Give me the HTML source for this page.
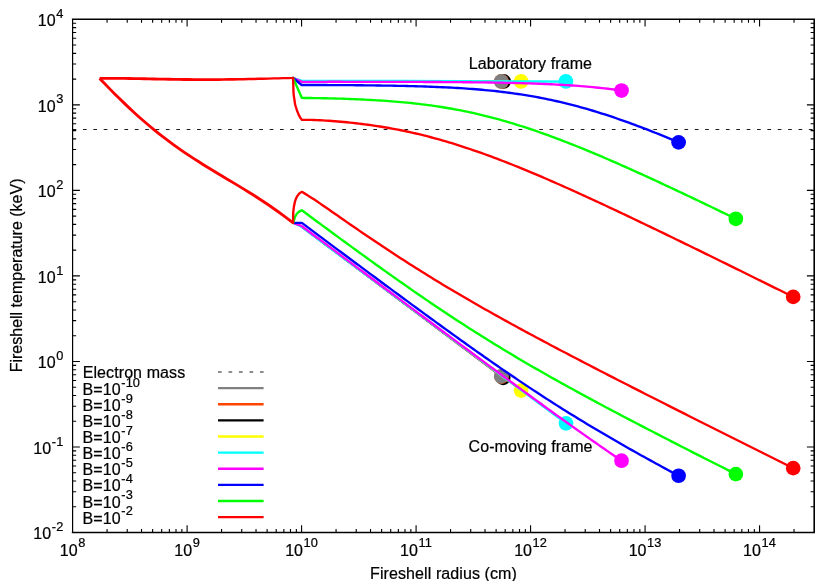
<!DOCTYPE html>
<html><head><meta charset="utf-8"><title>Fireshell temperature</title>
<style>html,body{margin:0;padding:0;background:#fff;}body{width:830px;height:581px;overflow:hidden;font-family:"Liberation Sans",sans-serif;}</style>
</head><body>
<svg width="830" height="581" viewBox="0 0 830 581" style="display:block;will-change:transform;font-family:'Liberation Sans',sans-serif">
<rect x="0" y="0" width="830" height="581" fill="#fff"/>
<path d="M107.07 532.55v-3.55M107.07 19.3v3.55M127.23 532.55v-3.55M127.23 19.3v3.55M141.53 532.55v-3.55M141.53 19.3v3.55M152.63 532.55v-3.55M152.63 19.3v3.55M161.69 532.55v-3.55M161.69 19.3v3.55M169.36 532.55v-3.55M169.36 19.3v3.55M176 532.55v-3.55M176 19.3v3.55M181.86 532.55v-3.55M181.86 19.3v3.55M187.1 532.55v-7.3M187.1 19.3v7.3M221.56 532.55v-3.55M221.56 19.3v3.55M241.72 532.55v-3.55M241.72 19.3v3.55M256.03 532.55v-3.55M256.03 19.3v3.55M267.12 532.55v-3.55M267.12 19.3v3.55M276.19 532.55v-3.55M276.19 19.3v3.55M283.86 532.55v-3.55M283.86 19.3v3.55M290.49 532.55v-3.55M290.49 19.3v3.55M296.35 532.55v-3.55M296.35 19.3v3.55M301.59 532.55v-7.3M301.59 19.3v7.3M336.06 532.55v-3.55M336.06 19.3v3.55M356.22 532.55v-3.55M356.22 19.3v3.55M370.52 532.55v-3.55M370.52 19.3v3.55M381.62 532.55v-3.55M381.62 19.3v3.55M390.69 532.55v-3.55M390.69 19.3v3.55M398.35 532.55v-3.55M398.35 19.3v3.55M404.99 532.55v-3.55M404.99 19.3v3.55M410.85 532.55v-3.55M410.85 19.3v3.55M416.09 532.55v-7.3M416.09 19.3v7.3M450.55 532.55v-3.55M450.55 19.3v3.55M470.71 532.55v-3.55M470.71 19.3v3.55M485.02 532.55v-3.55M485.02 19.3v3.55M496.11 532.55v-3.55M496.11 19.3v3.55M505.18 532.55v-3.55M505.18 19.3v3.55M512.85 532.55v-3.55M512.85 19.3v3.55M519.49 532.55v-3.55M519.49 19.3v3.55M525.34 532.55v-3.55M525.34 19.3v3.55M530.58 532.55v-7.3M530.58 19.3v7.3M565.05 532.55v-3.55M565.05 19.3v3.55M585.21 532.55v-3.55M585.21 19.3v3.55M599.51 532.55v-3.55M599.51 19.3v3.55M610.61 532.55v-3.55M610.61 19.3v3.55M619.68 532.55v-3.55M619.68 19.3v3.55M627.34 532.55v-3.55M627.34 19.3v3.55M633.98 532.55v-3.55M633.98 19.3v3.55M639.84 532.55v-3.55M639.84 19.3v3.55M645.08 532.55v-7.3M645.08 19.3v7.3M679.54 532.55v-3.55M679.54 19.3v3.55M699.7 532.55v-3.55M699.7 19.3v3.55M714.01 532.55v-3.55M714.01 19.3v3.55M725.11 532.55v-3.55M725.11 19.3v3.55M734.17 532.55v-3.55M734.17 19.3v3.55M741.84 532.55v-3.55M741.84 19.3v3.55M748.48 532.55v-3.55M748.48 19.3v3.55M754.33 532.55v-3.55M754.33 19.3v3.55M759.57 532.55v-7.3M759.57 19.3v7.3M794.04 532.55v-3.55M794.04 19.3v3.55M72.6 506.8h3.55M814.2 506.8h-3.55M72.6 491.74h3.55M814.2 491.74h-3.55M72.6 481.05h3.55M814.2 481.05h-3.55M72.6 472.76h3.55M814.2 472.76h-3.55M72.6 465.99h3.55M814.2 465.99h-3.55M72.6 460.26h3.55M814.2 460.26h-3.55M72.6 455.3h3.55M814.2 455.3h-3.55M72.6 450.92h3.55M814.2 450.92h-3.55M72.6 447.01h7.3M814.2 447.01h-7.3M72.6 421.26h3.55M814.2 421.26h-3.55M72.6 406.19h3.55M814.2 406.19h-3.55M72.6 395.51h3.55M814.2 395.51h-3.55M72.6 387.22h3.55M814.2 387.22h-3.55M72.6 380.44h3.55M814.2 380.44h-3.55M72.6 374.72h3.55M814.2 374.72h-3.55M72.6 369.76h3.55M814.2 369.76h-3.55M72.6 365.38h3.55M814.2 365.38h-3.55M72.6 361.47h7.3M814.2 361.47h-7.3M72.6 335.72h3.55M814.2 335.72h-3.55M72.6 320.65h3.55M814.2 320.65h-3.55M72.6 309.97h3.55M814.2 309.97h-3.55M72.6 301.68h3.55M814.2 301.68h-3.55M72.6 294.9h3.55M814.2 294.9h-3.55M72.6 289.18h3.55M814.2 289.18h-3.55M72.6 284.21h3.55M814.2 284.21h-3.55M72.6 279.84h3.55M814.2 279.84h-3.55M72.6 275.92h7.3M814.2 275.92h-7.3M72.6 250.17h3.55M814.2 250.17h-3.55M72.6 235.11h3.55M814.2 235.11h-3.55M72.6 224.42h3.55M814.2 224.42h-3.55M72.6 216.13h3.55M814.2 216.13h-3.55M72.6 209.36h3.55M814.2 209.36h-3.55M72.6 203.63h3.55M814.2 203.63h-3.55M72.6 198.67h3.55M814.2 198.67h-3.55M72.6 194.3h3.55M814.2 194.3h-3.55M72.6 190.38h7.3M814.2 190.38h-7.3M72.6 164.63h3.55M814.2 164.63h-3.55M72.6 149.57h3.55M814.2 149.57h-3.55M72.6 138.88h3.55M814.2 138.88h-3.55M72.6 130.59h3.55M814.2 130.59h-3.55M72.6 123.82h3.55M814.2 123.82h-3.55M72.6 118.09h3.55M814.2 118.09h-3.55M72.6 113.13h3.55M814.2 113.13h-3.55M72.6 108.76h3.55M814.2 108.76h-3.55M72.6 104.84h7.3M814.2 104.84h-7.3M72.6 79.09h3.55M814.2 79.09h-3.55M72.6 64.03h3.55M814.2 64.03h-3.55M72.6 53.34h3.55M814.2 53.34h-3.55M72.6 45.05h3.55M814.2 45.05h-3.55M72.6 38.28h3.55M814.2 38.28h-3.55M72.6 32.55h3.55M814.2 32.55h-3.55M72.6 27.59h3.55M814.2 27.59h-3.55M72.6 23.21h3.55M814.2 23.21h-3.55" stroke="#000" stroke-width="1.1" fill="none"/>
<path d="M72.6 129.5H814.2" stroke="#1a1a1a" stroke-width="1" stroke-dasharray="3.7 6.67" fill="none"/>
<g stroke="#000000" fill="none" stroke-width="1.5" stroke-linejoin="round">
<path d="M292.5 78L293.1 78L301.9 80.95L400 81L460 81.12L503.6 81.36"/>
<path d="M292.6 222.55L293.1 222.9L300.2 225.9L503.2 377.8"/>
</g>
<circle cx="503.6" cy="81.45" r="7.35" fill="#000000"/>
<circle cx="503.2" cy="377.8" r="7.35" fill="#000000"/>
<g stroke="#ff4500" fill="none" stroke-width="1.5" stroke-linejoin="round">
<path d="M292.5 78L293.1 78L301.9 80.95L400 81L460 81.12L501.5 81.36"/>
<path d="M292.6 222.55L293.1 222.9L300.2 225.9L501.5 376.55"/>
</g>
<circle cx="501.5" cy="81.45" r="7.35" fill="#ff4500"/>
<circle cx="501.5" cy="376.55" r="7.35" fill="#ff4500"/>
<g stroke="#808080" fill="none" stroke-width="1.5" stroke-linejoin="round">
<path d="M292.5 78L293.1 78L301.9 80.95L400 81L460 81.12L501.2 81.35"/>
<path d="M292.6 222.55L293.1 222.9L300.2 225.9L501.2 376.3"/>
</g>
<circle cx="501.2" cy="81.45" r="7.35" fill="#808080"/>
<circle cx="501.2" cy="376.3" r="7.35" fill="#808080"/>
<g stroke="#ffff00" fill="none" stroke-width="1.5" stroke-linejoin="round">
<path d="M292.5 78L293.1 78L301.9 80.95L400 81L460 81.12L500 81.35L521.1 81.43"/>
<path d="M292.6 222.55L293.1 222.9L300.2 225.9L521.1 390.6"/>
</g>
<circle cx="521.1" cy="81.45" r="7.35" fill="#ffff00"/>
<circle cx="521.1" cy="390.6" r="7.35" fill="#ffff00"/>
<g stroke="#00ffff" fill="none" stroke-width="2.35" stroke-linejoin="round">
<path d="M292.5 78L293.1 78L301.9 80.95L400 81L460 81.12L500 81.35L540 81.5L565.9 81.55"/>
<path d="M292.6 222.55L293.1 222.9L300.2 225.9L566 423.4"/>
</g>
<circle cx="565.9" cy="81.45" r="7.35" fill="#00ffff"/>
<circle cx="566" cy="423.4" r="7.35" fill="#00ffff"/>
<g stroke="#ff00ff" fill="none" stroke-width="2.35" stroke-linejoin="round">
<path d="M292.5 78L293.1 78L301.9 81.9L304.9 81.87L307.9 81.85L310.9 81.83L313.9 81.82L316.9 81.81L319.9 81.81L322.9 81.8L325.9 81.8L328.9 81.79L331.9 81.79L334.9 81.79L337.9 81.79L340.9 81.79L343.9 81.8L346.9 81.8L349.9 81.8L352.9 81.8L355.9 81.8L358.9 81.81L361.9 81.81L364.9 81.81L367.9 81.82L370.9 81.82L373.9 81.83L376.9 81.83L379.9 81.84L382.9 81.84L385.9 81.85L388.9 81.85L391.9 81.86L394.9 81.87L397.9 81.87L400.9 81.88L403.9 81.89L406.9 81.9L409.9 81.91L412.9 81.92L415.9 81.93L418.9 81.94L421.9 81.95L424.9 81.96L427.9 81.98L430.9 81.99L433.9 82L436.9 82.02L439.9 82.04L442.9 82.06L445.9 82.07L448.9 82.09L451.9 82.11L454.9 82.14L457.9 82.16L460.9 82.19L463.9 82.21L466.9 82.24L469.9 82.27L472.9 82.3L475.9 82.34L478.9 82.37L481.9 82.41L484.9 82.45L487.9 82.5L490.9 82.54L493.9 82.59L496.9 82.64L499.9 82.69L502.9 82.75L505.9 82.81L508.9 82.87L511.9 82.94L514.9 83.01L517.9 83.09L520.9 83.17L523.9 83.26L526.9 83.35L529.9 83.44L532.9 83.54L535.9 83.65L538.9 83.76L541.9 83.88L544.9 84L547.9 84.13L550.9 84.27L553.9 84.42L556.9 84.57L559.9 84.73L562.9 84.9L565.9 85.08L568.9 85.27L571.9 85.47L574.9 85.68L577.9 85.9L580.9 86.13L583.9 86.37L586.9 86.63L589.9 86.89L592.9 87.17L595.9 87.46L598.9 87.77L601.9 88.09L604.9 88.42L607.9 88.77L610.9 89.13L613.9 89.51L616.9 89.9L619.9 90.31L621.55 90.55"/>
<path d="M292.6 222.55L293.1 222.9L300.2 225.3L301.9 226.2L304.9 228.45L307.9 230.7L310.9 232.95L313.9 235.2L316.9 237.44L319.9 239.68L322.9 241.93L325.9 244.17L328.9 246.41L331.9 248.65L334.9 250.89L337.9 253.14L340.9 255.38L343.9 257.62L346.9 259.86L349.9 262.1L352.9 264.34L355.9 266.58L358.9 268.82L361.9 271.06L364.9 273.3L367.9 275.54L370.9 277.78L373.9 280.01L376.9 282.25L379.9 284.49L382.9 286.73L385.9 288.97L388.9 291.21L391.9 293.45L394.9 295.68L397.9 297.92L400.9 300.16L403.9 302.4L406.9 304.63L409.9 306.87L412.9 309.11L415.9 311.34L418.9 313.58L421.9 315.81L424.9 318.05L427.9 320.28L430.9 322.52L433.9 324.75L436.9 326.99L439.9 329.22L442.9 331.45L445.9 333.68L448.9 335.92L451.9 338.15L454.9 340.38L457.9 342.61L460.9 344.83L463.9 347.06L466.9 349.29L469.9 351.52L472.9 353.74L475.9 355.97L478.9 358.19L481.9 360.41L484.9 362.63L487.9 364.85L490.9 367.07L493.9 369.29L496.9 371.5L499.9 373.72L502.9 375.93L505.9 378.14L508.9 380.35L511.9 382.56L514.9 384.76L517.9 386.97L520.9 389.17L523.9 391.37L526.9 393.56L529.9 395.76L532.9 397.95L535.9 400.14L538.9 402.32L541.9 404.51L544.9 406.68L547.9 408.86L550.9 411.03L553.9 413.2L556.9 415.37L559.9 417.53L562.9 419.68L565.9 421.83L568.9 423.98L571.9 426.12L574.9 428.26L577.9 430.39L580.9 432.52L583.9 434.64L586.9 436.75L589.9 438.86L592.9 440.96L595.9 443.06L598.9 445.15L601.9 447.23L604.9 449.3L607.9 451.37L610.9 453.43L613.9 455.48L616.9 457.53L619.9 459.56L621.55 460.68"/>
</g>
<circle cx="621.55" cy="90.55" r="7.35" fill="#ff00ff"/>
<circle cx="621.55" cy="460.68" r="7.35" fill="#ff00ff"/>
<g stroke="#0000ff" fill="none" stroke-width="2.35" stroke-linejoin="round">
<path d="M292.5 78L293.1 78L301.6 85L301.9 85L304.9 84.99L307.9 84.99L310.9 84.99L313.9 85L316.9 85.01L319.9 85.01L322.9 85.02L325.9 85.04L328.9 85.05L331.9 85.06L334.9 85.08L337.9 85.1L340.9 85.12L343.9 85.14L346.9 85.16L349.9 85.18L352.9 85.2L355.9 85.23L358.9 85.26L361.9 85.29L364.9 85.32L367.9 85.35L370.9 85.38L373.9 85.42L376.9 85.46L379.9 85.5L382.9 85.55L385.9 85.59L388.9 85.64L391.9 85.69L394.9 85.75L397.9 85.81L400.9 85.87L403.9 85.94L406.9 86L409.9 86.08L412.9 86.16L415.9 86.24L418.9 86.33L421.9 86.42L424.9 86.51L427.9 86.62L430.9 86.73L433.9 86.84L436.9 86.96L439.9 87.09L442.9 87.22L445.9 87.37L448.9 87.52L451.9 87.67L454.9 87.84L457.9 88.01L460.9 88.2L463.9 88.39L466.9 88.6L469.9 88.81L472.9 89.03L475.9 89.27L478.9 89.52L481.9 89.78L484.9 90.05L487.9 90.33L490.9 90.63L493.9 90.94L496.9 91.27L499.9 91.61L502.9 91.96L505.9 92.33L508.9 92.72L511.9 93.12L514.9 93.54L517.9 93.97L520.9 94.42L523.9 94.89L526.9 95.38L529.9 95.88L532.9 96.4L535.9 96.94L538.9 97.5L541.9 98.08L544.9 98.67L547.9 99.29L550.9 99.92L553.9 100.57L556.9 101.24L559.9 101.93L562.9 102.64L565.9 103.37L568.9 104.12L571.9 104.88L574.9 105.67L577.9 106.47L580.9 107.29L583.9 108.13L586.9 108.98L589.9 109.86L592.9 110.75L595.9 111.66L598.9 112.59L601.9 113.53L604.9 114.49L607.9 115.47L610.9 116.46L613.9 117.46L616.9 118.49L619.9 119.52L622.9 120.57L625.9 121.64L628.9 122.72L631.9 123.81L634.9 124.92L637.9 126.04L640.9 127.17L643.9 128.32L646.9 129.47L649.9 130.64L652.9 131.82L655.9 133.01L658.9 134.21L661.9 135.42L664.9 136.64L667.9 137.87L670.9 139.11L673.9 140.36L676.9 141.61L678.6 142.33"/>
<path d="M292.6 222.55L293.1 222.9L301.9 222.85L304.9 225.12L307.9 227.39L310.9 229.64L313.9 231.89L316.9 234.14L319.9 236.39L322.9 238.63L325.9 240.87L328.9 243.11L331.9 245.35L334.9 247.58L337.9 249.82L340.9 252.05L343.9 254.28L346.9 256.51L349.9 258.74L352.9 260.97L355.9 263.2L358.9 265.43L361.9 267.66L364.9 269.88L367.9 272.11L370.9 274.33L373.9 276.56L376.9 278.78L379.9 281L382.9 283.22L385.9 285.44L388.9 287.65L391.9 289.87L394.9 292.08L397.9 294.29L400.9 296.5L403.9 298.71L406.9 300.92L409.9 303.12L412.9 305.33L415.9 307.53L418.9 309.72L421.9 311.92L424.9 314.11L427.9 316.3L430.9 318.49L433.9 320.67L436.9 322.85L439.9 325.03L442.9 327.21L445.9 329.38L448.9 331.54L451.9 333.7L454.9 335.86L457.9 338.02L460.9 340.17L463.9 342.31L466.9 344.45L469.9 346.59L472.9 348.71L475.9 350.84L478.9 352.96L481.9 355.07L484.9 357.17L487.9 359.27L490.9 361.36L493.9 363.45L496.9 365.53L499.9 367.6L502.9 369.66L505.9 371.72L508.9 373.77L511.9 375.81L514.9 377.84L517.9 379.87L520.9 381.88L523.9 383.89L526.9 385.89L529.9 387.88L532.9 389.86L535.9 391.83L538.9 393.79L541.9 395.74L544.9 397.69L547.9 399.62L550.9 401.55L553.9 403.46L556.9 405.37L559.9 407.26L562.9 409.15L565.9 411.03L568.9 412.9L571.9 414.76L574.9 416.6L577.9 418.45L580.9 420.28L583.9 422.1L586.9 423.91L589.9 425.71L592.9 427.51L595.9 429.3L598.9 431.07L601.9 432.84L604.9 434.61L607.9 436.36L610.9 438.11L613.9 439.84L616.9 441.57L619.9 443.3L622.9 445.01L625.9 446.72L628.9 448.42L631.9 450.12L634.9 451.8L637.9 453.49L640.9 455.16L643.9 456.83L646.9 458.49L649.9 460.15L652.9 461.8L655.9 463.45L658.9 465.09L661.9 466.73L664.9 468.36L667.9 469.99L670.9 471.61L673.9 473.22L676.9 474.84L678.6 475.75"/>
</g>
<circle cx="678.6" cy="142.33" r="7.35" fill="#0000ff"/>
<circle cx="678.6" cy="475.75" r="7.35" fill="#0000ff"/>
<g stroke="#00ff00" fill="none" stroke-width="2.35" stroke-linejoin="round">
<path d="M292.5 78L293.1 78L301.9 97.95L304.9 97.97L307.9 97.99L310.9 98.02L313.9 98.07L316.9 98.11L319.9 98.17L322.9 98.23L325.9 98.29L328.9 98.36L331.9 98.44L334.9 98.52L337.9 98.6L340.9 98.7L343.9 98.79L346.9 98.9L349.9 99L352.9 99.12L355.9 99.24L358.9 99.37L361.9 99.51L364.9 99.65L367.9 99.8L370.9 99.96L373.9 100.13L376.9 100.31L379.9 100.49L382.9 100.69L385.9 100.89L388.9 101.11L391.9 101.34L394.9 101.58L397.9 101.83L400.9 102.09L403.9 102.36L406.9 102.65L409.9 102.95L412.9 103.27L415.9 103.59L418.9 103.94L421.9 104.3L424.9 104.67L427.9 105.06L430.9 105.46L433.9 105.88L436.9 106.32L439.9 106.78L442.9 107.25L445.9 107.74L448.9 108.25L451.9 108.77L454.9 109.32L457.9 109.88L460.9 110.46L463.9 111.06L466.9 111.68L469.9 112.32L472.9 112.97L475.9 113.65L478.9 114.34L481.9 115.06L484.9 115.79L487.9 116.54L490.9 117.31L493.9 118.1L496.9 118.91L499.9 119.73L502.9 120.57L505.9 121.43L508.9 122.31L511.9 123.21L514.9 124.12L517.9 125.05L520.9 126L523.9 126.96L526.9 127.94L529.9 128.94L532.9 129.95L535.9 130.97L538.9 132.01L541.9 133.07L544.9 134.14L547.9 135.22L550.9 136.32L553.9 137.43L556.9 138.55L559.9 139.68L562.9 140.83L565.9 141.99L568.9 143.16L571.9 144.34L574.9 145.53L577.9 146.73L580.9 147.95L583.9 149.17L586.9 150.4L589.9 151.64L592.9 152.9L595.9 154.15L598.9 155.42L601.9 156.7L604.9 157.98L607.9 159.27L610.9 160.57L613.9 161.88L616.9 163.19L619.9 164.51L622.9 165.84L625.9 167.17L628.9 168.51L631.9 169.85L634.9 171.2L637.9 172.56L640.9 173.92L643.9 175.28L646.9 176.65L649.9 178.03L652.9 179.41L655.9 180.79L658.9 182.18L661.9 183.57L664.9 184.97L667.9 186.37L670.9 187.77L673.9 189.18L676.9 190.59L679.9 192L682.9 193.42L685.9 194.84L688.9 196.26L691.9 197.68L694.9 199.11L697.9 200.54L700.9 201.98L703.9 203.41L706.9 204.85L709.9 206.29L712.9 207.73L715.9 209.17L718.9 210.62L721.9 212.07L724.9 213.52L727.9 214.97L730.9 216.42L733.9 217.87L735.85 218.82"/>
<path d="M292.6 222.55L293.1 222.9C293.28 222.35 293.8 220.77 294.2 219.6C294.6 218.43 294.79 217.15 295.5 215.9C296.21 214.65 297.38 213.03 298.45 212.1C299.52 211.17 301.32 210.6 301.9 210.3L304.9 212.54L307.9 214.77L310.9 217L313.9 219.22L316.9 221.44L319.9 223.65L322.9 225.86L325.9 228.07L328.9 230.28L331.9 232.49L334.9 234.69L337.9 236.88L340.9 239.08L343.9 241.27L346.9 243.46L349.9 245.65L352.9 247.83L355.9 250.01L358.9 252.19L361.9 254.36L364.9 256.53L367.9 258.7L370.9 260.86L373.9 263.02L376.9 265.17L379.9 267.32L382.9 269.46L385.9 271.6L388.9 273.74L391.9 275.86L394.9 277.99L397.9 280.1L400.9 282.21L403.9 284.32L406.9 286.41L409.9 288.5L412.9 290.59L415.9 292.67L418.9 294.74L421.9 296.8L424.9 298.85L427.9 300.9L430.9 302.94L433.9 304.97L436.9 306.99L439.9 309L442.9 311.01L445.9 313.01L448.9 314.99L451.9 316.97L454.9 318.94L457.9 320.9L460.9 322.85L463.9 324.79L466.9 326.73L469.9 328.65L472.9 330.56L475.9 332.47L478.9 334.36L481.9 336.24L484.9 338.12L487.9 339.99L490.9 341.84L493.9 343.69L496.9 345.53L499.9 347.36L502.9 349.18L505.9 350.99L508.9 352.79L511.9 354.58L514.9 356.37L517.9 358.14L520.9 359.91L523.9 361.67L526.9 363.42L529.9 365.17L532.9 366.9L535.9 368.63L538.9 370.35L541.9 372.07L544.9 373.77L547.9 375.47L550.9 377.17L553.9 378.85L556.9 380.53L559.9 382.21L562.9 383.87L565.9 385.54L568.9 387.19L571.9 388.84L574.9 390.49L577.9 392.13L580.9 393.76L583.9 395.39L586.9 397.02L589.9 398.64L592.9 400.26L595.9 401.87L598.9 403.47L601.9 405.08L604.9 406.68L607.9 408.27L610.9 409.86L613.9 411.45L616.9 413.04L619.9 414.62L622.9 416.2L625.9 417.77L628.9 419.34L631.9 420.91L634.9 422.48L637.9 424.04L640.9 425.61L643.9 427.16L646.9 428.72L649.9 430.27L652.9 431.83L655.9 433.38L658.9 434.92L661.9 436.47L664.9 438.01L667.9 439.55L670.9 441.09L673.9 442.63L676.9 444.17L679.9 445.7L682.9 447.23L685.9 448.77L688.9 450.3L691.9 451.83L694.9 453.35L697.9 454.88L700.9 456.4L703.9 457.93L706.9 459.45L709.9 460.97L712.9 462.49L715.9 464.01L718.9 465.53L721.9 467.05L724.9 468.56L727.9 470.08L730.9 471.6L733.9 473.11L735.85 474.09"/>
</g>
<circle cx="735.85" cy="218.82" r="7.35" fill="#00ff00"/>
<circle cx="735.85" cy="474.09" r="7.35" fill="#00ff00"/>
<g stroke="#ff0000" fill="none" stroke-width="2.35" stroke-linejoin="round">
<path d="M292.5 78L293.1 78C293.13 79.33 293.22 83.35 293.3 86C293.38 88.65 293.4 91.57 293.6 93.9C293.8 96.23 294.2 98.07 294.5 100C294.8 101.93 294.68 102.98 295.4 105.5C296.12 108.02 297.72 112.7 298.8 115.1C299.88 117.5 301.38 119.1 301.9 119.9L304.9 119.86L307.9 119.86L310.9 119.91L313.9 119.99L316.9 120.1L319.9 120.24L322.9 120.4L325.9 120.58L328.9 120.78L331.9 120.99L334.9 121.22L337.9 121.47L340.9 121.73L343.9 122L346.9 122.29L349.9 122.6L352.9 122.92L355.9 123.25L358.9 123.6L361.9 123.97L364.9 124.35L367.9 124.75L370.9 125.16L373.9 125.59L376.9 126.04L379.9 126.51L382.9 126.99L385.9 127.49L388.9 128.01L391.9 128.55L394.9 129.11L397.9 129.68L400.9 130.27L403.9 130.89L406.9 131.52L409.9 132.17L412.9 132.83L415.9 133.52L418.9 134.23L421.9 134.95L424.9 135.7L427.9 136.46L430.9 137.24L433.9 138.04L436.9 138.86L439.9 139.7L442.9 140.55L445.9 141.42L448.9 142.31L451.9 143.22L454.9 144.15L457.9 145.09L460.9 146.04L463.9 147.02L466.9 148.01L469.9 149.01L472.9 150.03L475.9 151.07L478.9 152.12L481.9 153.18L484.9 154.26L487.9 155.35L490.9 156.46L493.9 157.57L496.9 158.7L499.9 159.85L502.9 161L505.9 162.17L508.9 163.34L511.9 164.53L514.9 165.73L517.9 166.94L520.9 168.16L523.9 169.39L526.9 170.63L529.9 171.87L532.9 173.13L535.9 174.39L538.9 175.67L541.9 176.95L544.9 178.24L547.9 179.53L550.9 180.84L553.9 182.15L556.9 183.47L559.9 184.79L562.9 186.12L565.9 187.46L568.9 188.8L571.9 190.15L574.9 191.5L577.9 192.86L580.9 194.22L583.9 195.59L586.9 196.96L589.9 198.34L592.9 199.72L595.9 201.11L598.9 202.5L601.9 203.9L604.9 205.29L607.9 206.7L610.9 208.1L613.9 209.51L616.9 210.92L619.9 212.34L622.9 213.76L625.9 215.18L628.9 216.6L631.9 218.03L634.9 219.46L637.9 220.89L640.9 222.32L643.9 223.76L646.9 225.2L649.9 226.64L652.9 228.08L655.9 229.53L658.9 230.98L661.9 232.42L664.9 233.87L667.9 235.33L670.9 236.78L673.9 238.24L676.9 239.69L679.9 241.15L682.9 242.61L685.9 244.07L688.9 245.53L691.9 247L694.9 248.46L697.9 249.93L700.9 251.4L703.9 252.86L706.9 254.33L709.9 255.8L712.9 257.28L715.9 258.75L718.9 260.22L721.9 261.69L724.9 263.17L727.9 264.64L730.9 266.12L733.9 267.6L736.9 269.07L739.9 270.55L742.9 272.03L745.9 273.51L748.9 274.99L751.9 276.47L754.9 277.95L757.9 279.43L760.9 280.91L763.9 282.4L766.9 283.88L769.9 285.36L772.9 286.85L775.9 288.33L778.9 289.82L781.9 291.3L784.9 292.79L787.9 294.27L790.9 295.76L793.2 296.9"/>
<path d="M292.6 222.55L293.1 222.9C293.11 221.58 293.07 217.27 293.15 215C293.22 212.73 293.26 211.48 293.55 209.3C293.84 207.12 294.44 203.78 294.9 201.9C295.36 200.02 295.82 199.08 296.3 198C296.78 196.92 297.22 196.2 297.8 195.4C298.38 194.6 299.12 193.79 299.8 193.2C300.48 192.61 301.55 192.07 301.9 191.85L304.9 193.62L307.9 195.47L310.9 197.39L313.9 199.35L316.9 201.35L319.9 203.39L322.9 205.44L325.9 207.5L328.9 209.58L331.9 211.66L334.9 213.75L337.9 215.83L340.9 217.92L343.9 220L346.9 222.09L349.9 224.16L352.9 226.23L355.9 228.3L358.9 230.36L361.9 232.42L364.9 234.46L367.9 236.5L370.9 238.53L373.9 240.56L376.9 242.57L379.9 244.58L382.9 246.58L385.9 248.57L388.9 250.55L391.9 252.52L394.9 254.49L397.9 256.44L400.9 258.39L403.9 260.32L406.9 262.25L409.9 264.16L412.9 266.07L415.9 267.97L418.9 269.86L421.9 271.74L424.9 273.6L427.9 275.46L430.9 277.32L433.9 279.16L436.9 280.99L439.9 282.81L442.9 284.63L445.9 286.43L448.9 288.23L451.9 290.01L454.9 291.79L457.9 293.57L460.9 295.33L463.9 297.08L466.9 298.83L469.9 300.57L472.9 302.3L475.9 304.02L478.9 305.74L481.9 307.45L484.9 309.15L487.9 310.85L490.9 312.54L493.9 314.22L496.9 315.89L499.9 317.56L502.9 319.23L505.9 320.89L508.9 322.54L511.9 324.19L514.9 325.83L517.9 327.47L520.9 329.1L523.9 330.72L526.9 332.35L529.9 333.96L532.9 335.58L535.9 337.19L538.9 338.79L541.9 340.39L544.9 341.99L547.9 343.58L550.9 345.17L553.9 346.76L556.9 348.34L559.9 349.92L562.9 351.5L565.9 353.07L568.9 354.64L571.9 356.21L574.9 357.77L577.9 359.33L580.9 360.89L583.9 362.45L586.9 364.01L589.9 365.56L592.9 367.11L595.9 368.66L598.9 370.2L601.9 371.75L604.9 373.29L607.9 374.83L610.9 376.37L613.9 377.9L616.9 379.44L619.9 380.97L622.9 382.51L625.9 384.04L628.9 385.57L631.9 387.09L634.9 388.62L637.9 390.15L640.9 391.67L643.9 393.19L646.9 394.71L649.9 396.24L652.9 397.76L655.9 399.27L658.9 400.79L661.9 402.31L664.9 403.82L667.9 405.34L670.9 406.85L673.9 408.37L676.9 409.88L679.9 411.39L682.9 412.9L685.9 414.42L688.9 415.93L691.9 417.44L694.9 418.94L697.9 420.45L700.9 421.96L703.9 423.47L706.9 424.97L709.9 426.48L712.9 427.99L715.9 429.49L718.9 431L721.9 432.5L724.9 434.01L727.9 435.51L730.9 437.01L733.9 438.52L736.9 440.02L739.9 441.52L742.9 443.02L745.9 444.52L748.9 446.03L751.9 447.53L754.9 449.03L757.9 450.53L760.9 452.03L763.9 453.53L766.9 455.03L769.9 456.53L772.9 458.03L775.9 459.53L778.9 461.03L781.9 462.52L784.9 464.02L787.9 465.52L790.9 467.02L793.2 468.17"/>
</g>
<circle cx="793.2" cy="296.9" r="7.35" fill="#ff0000"/>
<circle cx="793.2" cy="468.17" r="7.35" fill="#ff0000"/>
<g stroke="#ff0000" fill="none" stroke-width="2.85" stroke-linejoin="round" stroke-linecap="butt">
<path d="M99.6 78.4L104.56 83.54L109.52 88.63L114.48 93.64L119.45 98.56L124.41 103.38L129.37 108.1L134.33 112.71L139.29 117.19L144.25 121.55L149.22 125.79L154.18 129.89L159.14 133.88L164.1 137.74L169.06 141.48L174.02 145.11L178.98 148.63L183.95 152.06L188.91 155.39L193.87 158.64L198.83 161.81L203.79 164.92L208.75 167.98L213.72 171L218.68 173.99L223.64 176.96L228.6 179.92L233.56 182.89L238.52 185.88L243.48 188.9L248.45 191.96L253.41 195.07L258.37 198.24L263.33 201.48L268.29 204.8L273.25 208.22L278.22 211.73L283.18 215.34L288.14 219.07L293.1 222.9"/>
<path d="M99.6 77L104.56 76.94L109.52 76.92L114.48 76.93L119.45 76.96L124.41 77.01L129.37 77.08L134.33 77.16L139.29 77.25L144.25 77.35L149.22 77.45L154.18 77.55L159.14 77.65L164.1 77.74L169.06 77.83L174.02 77.92L178.98 77.99L183.95 78.05L188.91 78.1L193.87 78.14L198.83 78.17L203.79 78.19L208.75 78.21L213.72 78.2L218.68 78.19L223.64 78.16L228.6 78.12L233.56 78.06L238.52 77.99L243.48 77.91L248.45 77.82L253.41 77.72L258.37 77.62L263.33 77.51L268.29 77.39L273.25 77.28L278.22 77.17L283.18 77.06L288.14 76.97L293.1 76.88L293.1 79.08L288.14 79.2L283.18 79.33L278.22 79.47L273.25 79.62L268.29 79.77L263.33 79.91L258.37 80.06L253.41 80.2L248.45 80.33L243.48 80.46L238.52 80.57L233.56 80.67L228.6 80.77L223.64 80.84L218.68 80.91L213.72 80.96L208.75 80.99L203.79 81.02L198.83 81.02L193.87 80.99L188.91 80.95L183.95 80.9L178.98 80.84L174.02 80.77L169.06 80.68L164.1 80.59L159.14 80.5L154.18 80.4L149.22 80.3L144.25 80.2L139.29 80.1L134.33 80.01L129.37 79.93L124.41 79.86L119.45 79.81L114.48 79.78L109.52 79.77L104.56 79.79L99.6 79.85Z" fill="#ff0000" stroke="none"/>
</g>
<g stroke="#000" fill="none" stroke-linecap="square">
<path d="M72.6 19.3H814.2" stroke-width="1.4"/>
<path d="M72.6 532.55H814.2" stroke-width="1.55"/>
<path d="M72.6 19.3V532.55" stroke-width="1.2" stroke-linecap="butt"/>
<path d="M814.2 19.3V532.55" stroke-width="1.6" stroke-linecap="butt"/>
</g>
<g fill="#000" stroke="#000" stroke-width="0.22" letter-spacing="0.09">
<text x="72.6" y="555.5" font-size="16" text-anchor="middle">10<tspan font-size="12.8" dx="0.5" dy="-8.2">8</tspan></text>
<text x="187.1" y="555.5" font-size="16" text-anchor="middle">10<tspan font-size="12.8" dx="0.5" dy="-8.2">9</tspan></text>
<text x="301.59" y="555.5" font-size="16" text-anchor="middle">10<tspan font-size="12.8" dx="0.5" dy="-8.2">10</tspan></text>
<text x="416.09" y="555.5" font-size="16" text-anchor="middle">10<tspan font-size="12.8" dx="0.5" dy="-8.2">11</tspan></text>
<text x="530.58" y="555.5" font-size="16" text-anchor="middle">10<tspan font-size="12.8" dx="0.5" dy="-8.2">12</tspan></text>
<text x="645.08" y="555.5" font-size="16" text-anchor="middle">10<tspan font-size="12.8" dx="0.5" dy="-8.2">13</tspan></text>
<text x="759.57" y="555.5" font-size="16" text-anchor="middle">10<tspan font-size="12.8" dx="0.5" dy="-8.2">14</tspan></text>
<text x="63.4" y="539.35" font-size="16" text-anchor="end">10<tspan font-size="12.8" dx="0.5" dy="-8.2">-2</tspan></text>
<text x="63.4" y="453.81" font-size="16" text-anchor="end">10<tspan font-size="12.8" dx="0.5" dy="-8.2">-1</tspan></text>
<text x="63.4" y="368.27" font-size="16" text-anchor="end">10<tspan font-size="12.8" dx="0.5" dy="-8.2">0</tspan></text>
<text x="63.4" y="282.72" font-size="16" text-anchor="end">10<tspan font-size="12.8" dx="0.5" dy="-8.2">1</tspan></text>
<text x="63.4" y="197.18" font-size="16" text-anchor="end">10<tspan font-size="12.8" dx="0.5" dy="-8.2">2</tspan></text>
<text x="63.4" y="111.64" font-size="16" text-anchor="end">10<tspan font-size="12.8" dx="0.5" dy="-8.2">3</tspan></text>
<text x="63.4" y="26.1" font-size="16" text-anchor="end">10<tspan font-size="12.8" dx="0.5" dy="-8.2">4</tspan></text>
<text x="443.5" y="578.6" font-size="16" text-anchor="middle">Fireshell radius (cm)</text>
<text transform="translate(21.5 275.4) rotate(-90)" font-size="16" letter-spacing="0" text-anchor="middle">Fireshell temperature (keV)</text>
<text x="468.8" y="69.2" font-size="16">Laboratory frame</text>
<text x="468.5" y="452.05" font-size="16">Co-moving frame</text>
<text x="82.7" y="377.6" font-size="16">Electron mass</text>
<path d="M218 372H263.6" stroke="#1a1a1a" stroke-width="1" stroke-dasharray="3.7 6.8" fill="none"/>
<text x="82.6" y="394.72" font-size="16" text-anchor="start">B=10<tspan font-size="12.8" dx="0.5" dy="-8.2">-10</tspan></text>
<path d="M218 388.12H263.6" stroke="#808080" stroke-width="2.35" fill="none"/>
<text x="82.6" y="410.84" font-size="16" text-anchor="start">B=10<tspan font-size="12.8" dx="0.5" dy="-8.2">-9</tspan></text>
<path d="M218 404.24H263.6" stroke="#ff4500" stroke-width="2.35" fill="none"/>
<text x="82.6" y="426.96" font-size="16" text-anchor="start">B=10<tspan font-size="12.8" dx="0.5" dy="-8.2">-8</tspan></text>
<path d="M218 420.36H263.6" stroke="#000000" stroke-width="2.35" fill="none"/>
<text x="82.6" y="443.08" font-size="16" text-anchor="start">B=10<tspan font-size="12.8" dx="0.5" dy="-8.2">-7</tspan></text>
<path d="M218 436.48H263.6" stroke="#ffff00" stroke-width="2.35" fill="none"/>
<text x="82.6" y="459.2" font-size="16" text-anchor="start">B=10<tspan font-size="12.8" dx="0.5" dy="-8.2">-6</tspan></text>
<path d="M218 452.6H263.6" stroke="#00ffff" stroke-width="2.35" fill="none"/>
<text x="82.6" y="475.32" font-size="16" text-anchor="start">B=10<tspan font-size="12.8" dx="0.5" dy="-8.2">-5</tspan></text>
<path d="M218 468.72H263.6" stroke="#ff00ff" stroke-width="2.35" fill="none"/>
<text x="82.6" y="491.44" font-size="16" text-anchor="start">B=10<tspan font-size="12.8" dx="0.5" dy="-8.2">-4</tspan></text>
<path d="M218 484.84H263.6" stroke="#0000ff" stroke-width="2.35" fill="none"/>
<text x="82.6" y="507.56" font-size="16" text-anchor="start">B=10<tspan font-size="12.8" dx="0.5" dy="-8.2">-3</tspan></text>
<path d="M218 500.96H263.6" stroke="#00ff00" stroke-width="2.35" fill="none"/>
<text x="82.6" y="523.68" font-size="16" text-anchor="start">B=10<tspan font-size="12.8" dx="0.5" dy="-8.2">-2</tspan></text>
<path d="M218 517.08H263.6" stroke="#ff0000" stroke-width="2.35" fill="none"/>
</g>
</svg>
</body></html>
